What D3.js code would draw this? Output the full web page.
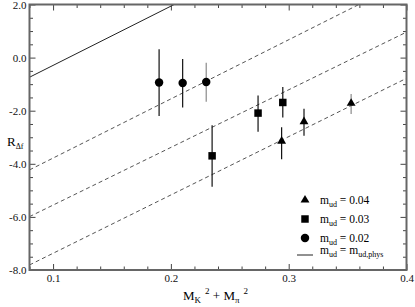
<!DOCTYPE html>
<html>
<head>
<meta charset="utf-8">
<script src="https://cdn.jsdelivr.net/npm/d3@7"></script>
<style>
  body { margin: 0; background: #fff; }
  svg { display: block; font-family: "Liberation Serif", "DejaVu Serif", serif; }
</style>
</head>
<body>
<div id="chart"></div>
<script>
(function(d3) {
  'use strict';

  // m_ud = 0.02 (circles)
  var circX = [0.190, 0.210, 0.230];
  var circY = [-0.94, -0.96, -0.92];
  var circHi = [0.31, -0.05, -0.19];
  var circLo = [-2.20, -1.88, -1.66];

  // m_ud = 0.03 (squares)
  var sqX = [0.235, 0.274, 0.295];
  var sqY = [-3.70, -2.09, -1.69];
  var sqHi = [-2.55, -1.43, -1.11];
  var sqLo = [-4.86, -2.79, -2.26];

  // m_ud = 0.04 (triangles)
  var triX = [0.294, 0.313, 0.353];
  var triY = [-3.15, -2.41, -1.72];
  var triHi = [-2.62, -1.93, -1.37];
  var triLo = [-3.83, -2.94, -2.12];

  // fit lines, values at the left and right ends of the x range
  var lineEnds = [0.08, 0.40];
  var physLine = [-0.74, 6.40];
  var dashLines = [[-4.23, 2.90], [-5.99, 0.96], [-7.81, -0.78]];

  var xMajor = [0.1, 0.2, 0.3, 0.4];
  var yMajor = [-8, -6, -4, -2, 0, 2];

  var width = 415, height = 307;
  var margin = { top: 4.5, right: 8.5, bottom: 37, left: 29.5 };

  var x = d3.scaleLinear().domain([0.08, 0.4]).range([margin.left, width - margin.right]);
  var y = d3.scaleLinear().domain([-8, 2]).range([height - margin.bottom, margin.top]);

  var xMinor = d3.range(0.08, 0.4001, 0.02).filter(function(v) {
    return xMajor.every(function(m) { return Math.abs(m - v) > 1e-6; });
  });
  var yMinor = d3.range(-8, 2.001, 0.5).filter(function(v) { return v % 2 !== 0; });

  var fmtY = function(v) { return d3.format('.1f')(v).replace('\u2212', '-'); };

  var svg = d3.select('#chart').append('svg')
    .attr('width', width)
    .attr('height', height);

  svg.append('clipPath').attr('id', 'plot-clip')
    .append('rect')
    .attr('x', x.range()[0]).attr('y', y.range()[1])
    .attr('width', x.range()[1] - x.range()[0])
    .attr('height', y.range()[0] - y.range()[1]);

  var tickColor = '#444';

  function styleAxis(g) {
    g.select('.domain').remove();
    g.selectAll('line').attr('stroke', tickColor).attr('stroke-width', 1);
    g.selectAll('text').attr('fill', '#111').style('font-family', '"Liberation Serif", serif').style('font-size', '11px');
  }

  // bottom
  svg.append('g').attr('transform', 'translate(0,' + y.range()[0] + ')')
    .call(d3.axisBottom(x).tickValues(xMajor).tickSize(-6).tickPadding(4).tickFormat(d3.format('.1f')))
    .call(styleAxis);
  svg.append('g').attr('transform', 'translate(0,' + y.range()[0] + ')')
    .call(d3.axisBottom(x).tickValues(xMinor).tickSize(-3.5).tickFormat(''))
    .call(styleAxis);
  // top
  svg.append('g').attr('transform', 'translate(0,' + y.range()[1] + ')')
    .call(d3.axisTop(x).tickValues(xMajor).tickSize(-6).tickFormat(''))
    .call(styleAxis);
  svg.append('g').attr('transform', 'translate(0,' + y.range()[1] + ')')
    .call(d3.axisTop(x).tickValues(xMinor).tickSize(-3.5).tickFormat(''))
    .call(styleAxis);
  // left
  svg.append('g').attr('transform', 'translate(' + x.range()[0] + ',0)')
    .call(d3.axisLeft(y).tickValues(yMajor).tickSize(-6).tickPadding(3).tickFormat(fmtY))
    .call(styleAxis);
  svg.append('g').attr('transform', 'translate(' + x.range()[0] + ',0)')
    .call(d3.axisLeft(y).tickValues(yMinor).tickSize(-3.5).tickFormat(''))
    .call(styleAxis);
  // right
  svg.append('g').attr('transform', 'translate(' + x.range()[1] + ',0)')
    .call(d3.axisRight(y).tickValues(yMajor).tickSize(-6).tickFormat(''))
    .call(styleAxis);
  svg.append('g').attr('transform', 'translate(' + x.range()[1] + ',0)')
    .call(d3.axisRight(y).tickValues(yMinor).tickSize(-3.5).tickFormat(''))
    .call(styleAxis);

  // fit lines
  var lines = svg.append('g').attr('clip-path', 'url(#plot-clip)');
  lines.append('line')
    .attr('x1', x(lineEnds[0])).attr('x2', x(lineEnds[1]))
    .attr('y1', y(physLine[0])).attr('y2', y(physLine[1]))
    .attr('stroke', '#222').attr('stroke-width', 1);
  lines.selectAll('.dash').data(dashLines).enter().append('line')
    .attr('class', 'dash')
    .attr('x1', x(lineEnds[0])).attr('x2', x(lineEnds[1]))
    .attr('y1', function(d) { return y(d[0]); })
    .attr('y2', function(d) { return y(d[1]); })
    .attr('stroke', '#555').attr('stroke-width', 1)
    .attr('stroke-dasharray', '4,3');

  function zip(xs, ys, his, los) {
    return xs.map(function(v, i) { return { x: v, y: ys[i], hi: his[i], lo: los[i], i: i }; });
  }

  var series = [
    { name: '0.04', symbol: d3.symbolTriangle, size: 34, data: zip(triX, triY, triHi, triLo), grey: [2] },
    { name: '0.03', symbol: d3.symbolSquare, size: 56, data: zip(sqX, sqY, sqHi, sqLo), grey: [] },
    { name: '0.02', symbol: d3.symbolCircle, size: 56, data: zip(circX, circY, circHi, circLo), grey: [2] }
  ];

  series.forEach(function(s) {
    var g = svg.append('g');
    g.selectAll('line').data(s.data).enter().append('line')
      .attr('x1', function(d) { return x(d.x); })
      .attr('x2', function(d) { return x(d.x); })
      .attr('y1', function(d) { return y(d.hi); })
      .attr('y2', function(d) { return y(d.lo); })
      .attr('stroke', function(d) { return s.grey.indexOf(d.i) >= 0 ? '#8a8a8a' : '#111'; })
      .attr('stroke-width', 1.2);
    g.selectAll('path').data(s.data).enter().append('path')
      .attr('d', d3.symbol().type(s.symbol).size(s.size))
      .attr('transform', function(d) { return 'translate(' + x(d.x) + ',' + y(d.y) + ')'; })
      .attr('fill', '#000');
  });

  // frame
  svg.append('rect')
    .attr('x', x.range()[0]).attr('y', y.range()[1])
    .attr('width', x.range()[1] - x.range()[0])
    .attr('height', y.range()[0] - y.range()[1])
    .attr('fill', 'none').attr('stroke', '#666').attr('stroke-width', 2);

  // legend
  var legend = svg.append('g').attr('transform', 'translate(305,200)')
    .style('font-size', '11.5px');
  var rowH = 19;
  series.forEach(function(s, i) {
    legend.append('path')
      .attr('d', d3.symbol().type(s.symbol).size(s.size))
      .attr('transform', 'translate(0,' + (i * rowH) + ')')
      .attr('fill', '#000');
    var t = legend.append('text').attr('x', 15).attr('y', i * rowH + 4);
    t.append('tspan').text('m');
    t.append('tspan').attr('dy', 3).style('font-size', '8px').text('ud');
    t.append('tspan').attr('dy', -3).text(' = ' + s.name);
  });
  legend.append('line')
    .attr('x1', -8).attr('x2', 8)
    .attr('y1', 3 * rowH - 2).attr('y2', 3 * rowH - 2)
    .attr('stroke', '#222');
  var tp = legend.append('text').attr('x', 15).attr('y', 3 * rowH - 3);
  tp.append('tspan').text('m');
  tp.append('tspan').attr('dy', 3).style('font-size', '8px').text('ud');
  tp.append('tspan').attr('dy', -3).text(' = m');
  tp.append('tspan').attr('dy', 3).style('font-size', '8px').text('ud,phys');

  // axis titles
  var xt = svg.append('text').attr('x', 183).attr('y', 300).style('font-size', '13px');
  xt.append('tspan').text('M');
  xt.append('tspan').attr('dy', 3).style('font-size', '9px').text('K');
  xt.append('tspan').attr('dx', 4).attr('dy', -9).style('font-size', '9px').text('2');
  xt.append('tspan').attr('dy', 6).text(' + M');
  xt.append('tspan').attr('dy', 3).style('font-size', '9px').text('\u03c0');
  xt.append('tspan').attr('dx', 4).attr('dy', -9).style('font-size', '9px').text('2');

  var yt = svg.append('text').attr('x', 7).attr('y', 146).style('font-size', '13px');
  yt.append('tspan').text('R');
  yt.append('tspan').attr('dy', 3).style('font-size', '8px').text('\u0394f');
}(d3));
</script>
</body>
</html>
